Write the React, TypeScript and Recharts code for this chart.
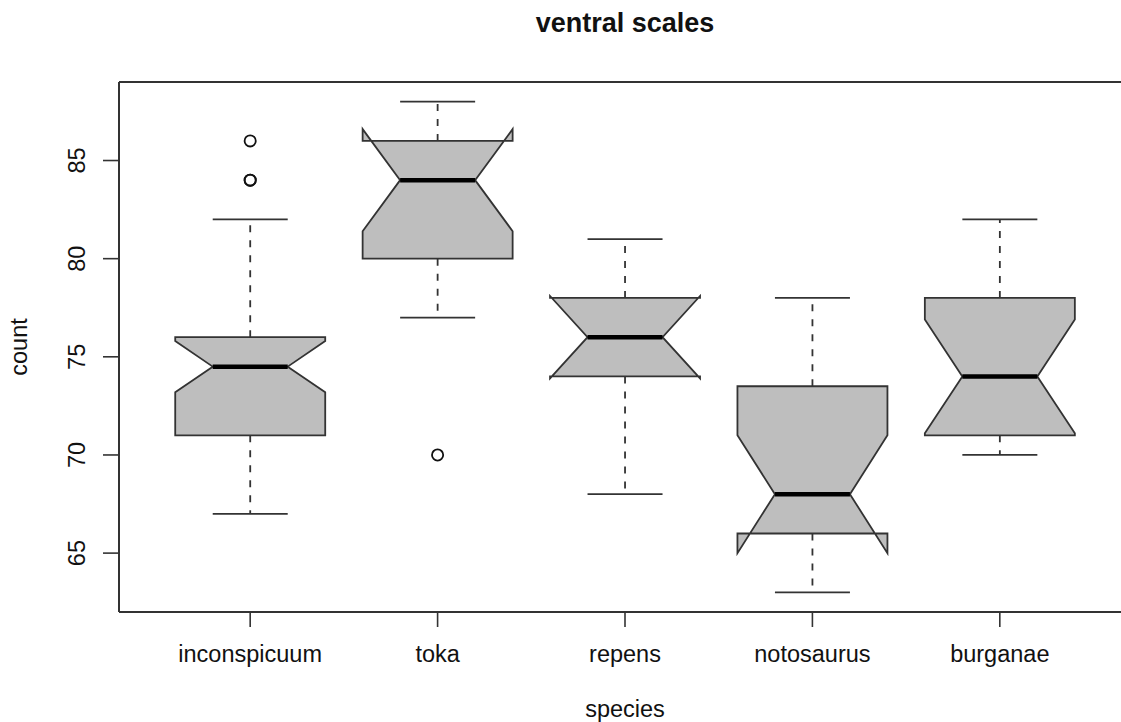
import React from 'react';
import {
  ComposedChart,
  Bar,
  Scatter,
  XAxis,
  YAxis,
  ReferenceLine,
  Label,
} from 'recharts';

// Five-number summaries of ventral scale counts per species, plus notch limits
const species = ['inconspicuum', 'toka', 'repens', 'notosaurus', 'burganae'];
const whiskerLow = [67, 77, 68, 63, 70];
const lowerQuartile = [71, 80, 74, 66, 71];
const medians = [74.5, 84, 76, 68, 74];
const upperQuartile = [76, 86, 78, 73.5, 78];
const whiskerHigh = [82, 88, 81, 78, 82];
const notchLow = [73.2, 81.4, 73.9, 65, 71.1];
const notchHigh = [75.8, 86.6, 78.1, 71, 76.9];

// Outlying observations: group position (1-based) and value
const outlierGroup = [1, 1, 1, 2];
const outlierValue = [84, 84, 86, 70];

const yTicks = [65, 70, 75, 80, 85];
const xTicks = [1, 2, 3, 4, 5];
const xDomain: [number, number] = [0.3, 5.7];
const yDomain: [number, number] = [62, 89];

const boxData = species.map((name, i) => ({
  x: i + 1,
  name,
  lo: whiskerLow[i],
  q1: lowerQuartile[i],
  med: medians[i],
  q3: upperQuartile[i],
  hi: whiskerHigh[i],
  cLo: notchLow[i],
  cHi: notchHigh[i],
}));

const outliers = outlierGroup.map((g, i) => ({ x: g, y: outlierValue[i] }));

const FONT = '"Liberation Sans", Arial, Helvetica, sans-serif';
const BOX_FILL = '#BEBEBE';
const LINE = '#333333';

// Notched box with dashed whiskers; the bar spans the whisker range, so every
// inner value is placed along that same linear pixel range.
const NotchedBox = (props: any) => {
  const { x, y, width, height, payload } = props;
  if (payload == null) return null;
  const top = Math.min(y, y + height);
  const bottom = Math.max(y, y + height);
  const unit = (bottom - top) / (payload.hi - payload.lo);
  const py = (v: number) => bottom - (v - payload.lo) * unit;
  const cx = x + width / 2;
  const hw = width / 2;
  const nf = 0.5;
  const pts: [number, number][] = [
    [cx - hw, py(payload.q1)],
    [cx + hw, py(payload.q1)],
    [cx + hw, py(payload.cLo)],
    [cx + hw * nf, py(payload.med)],
    [cx + hw, py(payload.cHi)],
    [cx + hw, py(payload.q3)],
    [cx - hw, py(payload.q3)],
    [cx - hw, py(payload.cHi)],
    [cx - hw * nf, py(payload.med)],
    [cx - hw, py(payload.cLo)],
  ];
  const staple = hw / 2;
  return (
    <g>
      <line x1={cx} x2={cx} y1={py(payload.q3)} y2={py(payload.hi)} stroke={LINE} strokeWidth={1.8} strokeDasharray="7 8" />
      <line x1={cx} x2={cx} y1={py(payload.q1)} y2={py(payload.lo)} stroke={LINE} strokeWidth={1.8} strokeDasharray="7 8" />
      <line x1={cx - staple} x2={cx + staple} y1={py(payload.hi)} y2={py(payload.hi)} stroke={LINE} strokeWidth={1.8} />
      <line x1={cx - staple} x2={cx + staple} y1={py(payload.lo)} y2={py(payload.lo)} stroke={LINE} strokeWidth={1.8} />
      <polygon points={pts.map((p) => p.join(',')).join(' ')} fill={BOX_FILL} stroke={LINE} strokeWidth={1.8} strokeLinejoin="miter" />
      <line x1={cx - hw * nf} x2={cx + hw * nf} y1={py(payload.med)} y2={py(payload.med)} stroke="#000" strokeWidth={4.5} />
    </g>
  );
};

const OutlierDot = (props: any) => {
  const { cx, cy } = props;
  if (cx == null || cy == null) return null;
  return <circle cx={cx} cy={cy} r={5.6} fill="none" stroke="#111" strokeWidth={1.8} />;
};

const XTick = (props: any) => {
  const { x, y, payload } = props;
  return (
    <text x={x} y={y} textAnchor="middle" fontFamily={FONT} fontSize={23.5} fill="#111">
      {species[payload.value - 1]}
    </text>
  );
};

const YTick = (props: any) => {
  const { x, y, payload } = props;
  return (
    <text x={x} y={y} transform={`rotate(-90 ${x} ${y})`} textAnchor="middle" fontFamily={FONT} fontSize={23.5} fill="#111">
      {payload.value}
    </text>
  );
};

const XTitle = (props: any) => {
  const vb = props.viewBox || {};
  return (
    <text x={vb.x + vb.width / 2} y={vb.y + 105} textAnchor="middle" fontFamily={FONT} fontSize={23.5} fill="#111">
      species
    </text>
  );
};

const YTitle = (props: any) => {
  const vb = props.viewBox || {};
  const cx = 27;
  const cy = vb.y + vb.height / 2;
  return (
    <text x={cx} y={cy} transform={`rotate(-90 ${cx} ${cy})`} textAnchor="middle" fontFamily={FONT} fontSize={23.5} fill="#111">
      count
    </text>
  );
};

export default function App() {
  return (
    <div
      style={{
        position: 'absolute',
        left: 0,
        top: 0,
        width: 1121,
        height: 722,
        overflow: 'hidden',
        background: '#fff',
      }}
    >
      <div
        style={{
          position: 'absolute',
          left: 119,
          width: 1012,
          top: 10,
          textAlign: 'center',
          fontFamily: FONT,
          fontWeight: 'bold',
          fontSize: 27,
          lineHeight: '27px',
          color: '#111',
        }}
      >
        ventral scales
      </div>
      <ComposedChart
        width={1160}
        height={722}
        data={boxData}
        margin={{ top: 82, right: 29, bottom: 0, left: 0 }}
        barCategoryGap="10%"
      >
        <XAxis
          dataKey="x"
          type="number"
          domain={xDomain}
          ticks={xTicks}
          interval={0}
          allowDataOverflow
          axisLine={false}
          tickLine={{ stroke: LINE, strokeWidth: 1.6 }}
          tickSize={15}
          tickMargin={35}
          height={110}
          tick={<XTick />}
        >
          <Label content={<XTitle />} />
        </XAxis>
        <YAxis
          type="number"
          domain={yDomain}
          ticks={yTicks}
          interval={0}
          allowDataOverflow
          axisLine={false}
          tickLine={{ stroke: LINE, strokeWidth: 1.6 }}
          tickSize={16}
          tickMargin={18}
          width={119}
          tick={<YTick />}
        >
          <Label content={<YTitle />} />
        </YAxis>
        {/* plot frame: left, top and bottom edges */}
        <ReferenceLine x={xDomain[0]} stroke={LINE} strokeWidth={2} />
        <ReferenceLine y={yDomain[1]} stroke={LINE} strokeWidth={2} />
        <ReferenceLine y={yDomain[0]} stroke={LINE} strokeWidth={2} />
        <Bar
          dataKey={(d: any) => [d.lo, d.hi]}
          shape={<NotchedBox />}
          isAnimationActive={false}
        />
        <Scatter data={outliers} dataKey="y" shape={<OutlierDot />} isAnimationActive={false} />
      </ComposedChart>
    </div>
  );
}
